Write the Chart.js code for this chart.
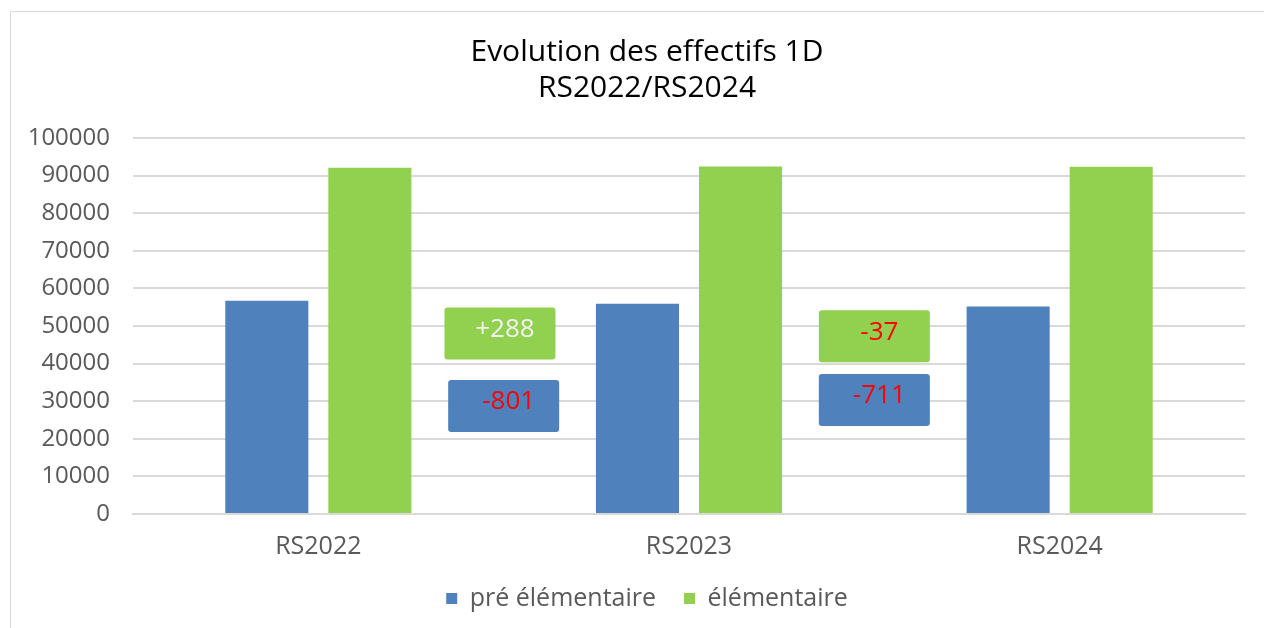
<!DOCTYPE html>
<html>
<head>
<meta charset="utf-8">
<script src="https://cdn.jsdelivr.net/npm/chart.js@4"></script>
<style>
  html, body { margin: 0; padding: 0; background: #fff; }
  #wrap { position: relative; width: 1264px; height: 628px; overflow: hidden; }
  #frame { position: absolute; left: 10px; top: 11px; width: 1300px; height: 700px; border: 1px solid #d9d9d9; box-sizing: border-box; }
  canvas { position: absolute; left: 0; top: 0; }
</style>
</head>
<body>
<div id="wrap">
  <div id="frame"></div>
  <canvas id="chart" width="1264" height="628"></canvas>
</div>
<script>
window.addEventListener("DOMContentLoaded", () => {

  const years = ["RS2022", "RS2023", "RS2024"];
  const preElem = [56700, 55899, 55188];
  const elem = [92100, 92388, 92351];

  // écarts affichés entre deux rentrées
  const elemDelta = ["+288", "-37"];
  const preDelta = ["-801", "-711"];

  const blue = "#4f81bd";
  const green = "#92d050";

  // boîtes d'écart, placées via les échelles
  const deltaBoxes = {
    id: "deltaBoxes",
    afterDatasetsDraw(chart) {
      const { ctx, scales: { x, y } } = chart;
      const spots = [
        { at: 0.49, val: 48000, fill: green, txt: elemDelta[0], color: "#f2f2f2" },
        { at: 0.5, val: 28700, fill: blue, txt: preDelta[0], color: "#ff0000" },
        { at: 1.5, val: 47300, fill: green, txt: elemDelta[1], color: "#ff0000" },
        { at: 1.5, val: 30300, fill: blue, txt: preDelta[1], color: "#ff0000" }
      ];
      const w = 111, h = 52;
      ctx.save();
      spots.forEach(s => {
        const cx = x.getPixelForValue(s.at);
        const cy = y.getPixelForValue(s.val);
        ctx.fillStyle = s.fill;
        ctx.beginPath();
        ctx.roundRect(cx - w / 2, cy - h / 2, w, h, 3);
        ctx.fill();
        ctx.fillStyle = s.color;
        ctx.font = "26px 'Open Sans'";
        ctx.textAlign = "center";
        ctx.textBaseline = "middle";
        ctx.fillText(s.txt, cx + 5, cy - 4);
      });
      ctx.restore();
    }
  };

  // l'axe y déborde dans la marge gauche pour ne pas couper les libellés
  const widenY = {
    id: "widenY",
    afterLayout(chart) {
      chart.scales.y.left = 0;
    }
  };

  new Chart(document.getElementById("chart"), {
    type: "bar",
    data: {
      labels: years,
      datasets: [
        { label: "pré élémentaire", data: preElem, backgroundColor: blue },
        { label: "élémentaire", data: elem, backgroundColor: green }
      ]
    },
    options: {
      responsive: false,
      animation: false,
      categoryPercentage: 0.556,
      barPercentage: 0.806,
      layout: { padding: { left: 49, right: 19, top: 0, bottom: 7 } },
      plugins: {
        title: {
          display: true,
          text: ["Evolution des effectifs 1D", "RS2022/RS2024"],
          color: "#000",
          font: { family: "Open Sans", size: 30, weight: "normal", lineHeight: 1.2 },
          padding: { top: 34, bottom: 32 }
        },
        legend: {
          position: "bottom",
          labels: {
            boxWidth: 11,
            boxHeight: 11,
            padding: 28,
            color: "#595959",
            font: { family: "Open Sans", size: 25 }
          }
        },
        tooltip: { enabled: false }
      },
      scales: {
        x: {
          grid: { display: false },
          border: { color: "#d9d9d9", width: 2 },
          ticks: { color: "#595959", font: { family: "Open Sans", size: 25 }, padding: 10 },
          afterFit: s => { s.height = 44; }
        },
        y: {
          min: 0,
          max: 100000,
          grid: { color: "#d9d9d9", lineWidth: 2, drawTicks: false },
          border: { display: false },
          ticks: {
            stepSize: 10000,
            color: "#595959",
            font: { family: "Open Sans", size: 24 },
            padding: 23,
            callback: v => String(v)
          },
          afterFit: s => { s.width = 84; }
        }
      }
    },
    plugins: [deltaBoxes, widenY]
  });

});
</script>
</body>
</html>
